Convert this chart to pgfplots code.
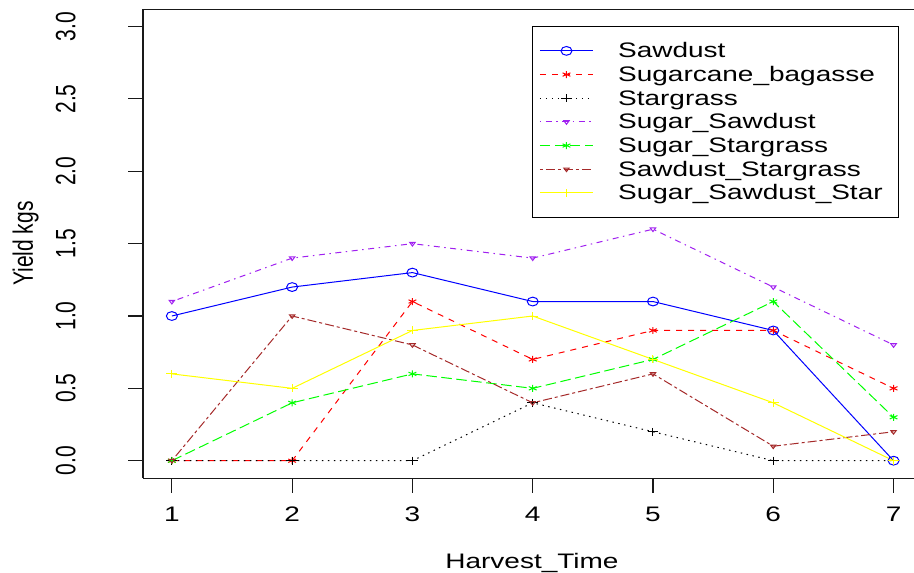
\documentclass[border=0pt]{standalone}
\usepackage{fontspec}
\setmainfont[FakeStretch=1.333]{Liberation Sans}
\newfontfamily\rotfont{Liberation Sans}
\usepackage{graphicx}
\usepackage{pgfplots}
\pgfplotsset{compat=1.18}
\definecolor{rpurple}{RGB}{160,32,240}
\definecolor{rbrown}{RGB}{165,42,42}
\definecolor{rgreen}{RGB}{0,255,0}
\definecolor{ryellow}{RGB}{255,255,0}
\definecolor{rblue}{RGB}{0,0,255}
\definecolor{rred}{RGB}{255,0,0}
\newcommand\fs{\fontsize{15.75pt}{19pt}\selectfont}
\begin{document}
\begin{tikzpicture}
\useasboundingbox (0,0) rectangle (685.5pt,429.75pt);
\begin{axis}[
  at={(107.25pt,71.2pt)}, anchor=south west,
  scale only axis, width=578.25pt, height=351.6pt,
  xmin=0.76, xmax=7.17, ymin=-0.12, ymax=3.12,
  clip=false,
  axis lines=left, axis line style={-, line width=0.8pt, black!90},
  tick align=outside, major tick length=11pt,
  tick style={line width=0.8pt, black!90},
  xtick={1,2,3,4,5,6,7}, xticklabels={1,2,3,4,5,6,7},
  ytick={0,0.5,1,1.5,2,2.5,3},
  yticklabel={\rotfont\raisebox{3.5pt}{\scalebox{1}[1.333]{\pgfmathprintnumber[fixed,fixed zerofill,precision=1,assume math mode=true]{\tick}}}},
  xticklabel style={font=\fs, anchor=north, inner sep=0pt},
  xticklabel shift=10.75pt,
  yticklabel style={font=\fs, rotate=90, anchor=south, inner sep=0pt},
  yticklabel shift=36pt,
  xlabel={Harvest\_Time},
  ylabel={\rotfont\scalebox{1}[1.333]{Yield kgs}},
  xlabel style={font=\fs, at={(rel axis cs:0.5045,0)}, anchor=base, yshift=-67.5pt, inner sep=0pt},
  ylabel style={font=\fs, at={(rel axis cs:-0.1427,0.5)}, anchor=base, inner sep=0pt},
  legend style={font=\fs, at={(rel axis cs:0.9805,0.9644)}, anchor=north east,
    draw=black, inner xsep=5.25pt, inner ysep=9.5pt, row sep=-0.25pt,
    nodes={inner sep=0pt, text height=14.2pt, text depth=3.8pt}},
  legend cell align=left,
  legend image code/.code={\draw[mark repeat=2,mark phase=2] plot coordinates {(0pt,0pt)(20pt,0pt)(40pt,0pt)}; \path[draw=none,fill=none] (0pt,0pt) -- (58.75pt,0pt);},
]
\addplot[rblue, line width=0.75pt, mark=o, mark size=3.3pt, mark options={solid, xscale=1.25}]
  coordinates {(1,1.0)(2,1.2)(3,1.3)(4,1.1)(5,1.1)(6,0.9)(7,0.0)};
\addlegendentry{Sawdust}
\addplot[rred, line width=0.75pt, dash pattern=on 4.5pt off 4.5pt, mark=asterisk, mark size=2.6pt, mark options={solid, xscale=1.3}]
  coordinates {(1,0)(2,0)(3,1.1)(4,0.7)(5,0.9)(6,0.9)(7,0.5)};
\addlegendentry{Sugarcane\_bagasse}
\addplot[black, line width=0.75pt, dash pattern=on 1.1pt off 3.4pt, mark=+, mark size=3pt, mark options={solid, xscale=1.35}]
  coordinates {(1,0)(2,0)(3,0)(4,0.4)(5,0.2)(6,0)(7,0)};
\addlegendentry{Stargrass}
\addplot[rpurple, line width=0.75pt, dash pattern=on 1.1pt off 3.4pt on 4.5pt off 3.4pt, mark=triangle, mark size=1.8pt, mark options={solid, rotate=180, xscale=1.3}]
  coordinates {(1,1.1)(2,1.4)(3,1.5)(4,1.4)(5,1.6)(6,1.2)(7,0.8)};
\addlegendentry{Sugar\_Sawdust}
\addplot[rgreen, line width=0.75pt, dash pattern=on 7.9pt off 3.4pt, mark=asterisk, mark size=2.6pt, mark options={solid, xscale=1.3}]
  coordinates {(1,0)(2,0.4)(3,0.6)(4,0.5)(5,0.7)(6,1.1)(7,0.3)};
\addlegendentry{Sugar\_Stargrass}
\addplot[rbrown, line width=0.75pt, dash pattern=on 2.25pt off 2.25pt on 6.75pt off 2.25pt, mark=triangle, mark size=1.8pt, mark options={solid, rotate=180, xscale=1.3}]
  coordinates {(1,0)(2,1.0)(3,0.8)(4,0.4)(5,0.6)(6,0.1)(7,0.2)};
\addlegendentry{Sawdust\_Stargrass}
\addplot[ryellow, line width=0.75pt, solid, mark=+, mark size=3pt, mark options={solid, xscale=1.35}]
  coordinates {(1,0.6)(2,0.5)(3,0.9)(4,1.0)(5,0.7)(6,0.4)(7,0.0)};
\addlegendentry{Sugar\_Sawdust\_Star\hspace*{6.75pt}}
\draw[line width=0.8pt, black!90] (rel axis cs:0,1) -- (rel axis cs:1,1);
\end{axis}
\end{tikzpicture}
\end{document}
